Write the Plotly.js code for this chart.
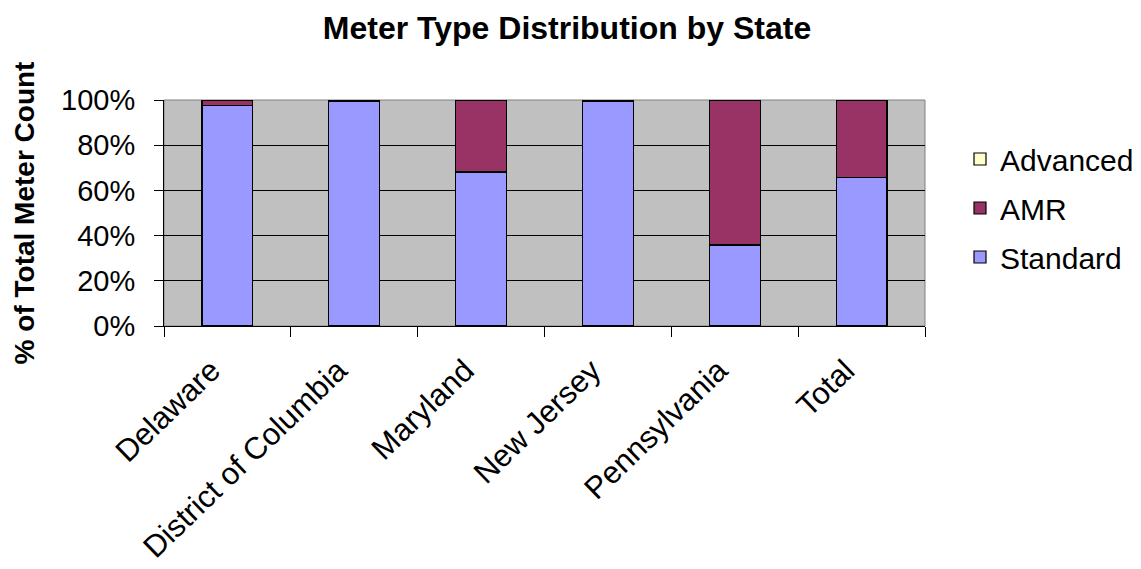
<!DOCTYPE html>
<html>
<head>
<meta charset="utf-8">
<script src="https://cdn.plot.ly/plotly-3.0.1.min.js"></script>
<style>html,body{margin:0;padding:0;background:#fff;}#chart{width:1141px;height:569px;}</style>
</head>
<body>
<div id="chart"></div>
<script>
var states = ["Delaware", "District of Columbia", "Maryland", "New Jersey", "Pennsylvania", "Total"];
var standardPct = [97.6, 99.2, 68.1, 99.2, 35.8, 65.6];
var amrPct = [2.4, 0.6, 31.9, 0.6, 64.2, 34.3];
var advancedPct = [0.0, 0.2, 0.0, 0.2, 0.0, 0.1];
var yTickVals = [0, 20, 40, 60, 80, 100];
var yTickText = ["0%", "20%", "40%", "60%", "80%", "100%"];

var FONT = "Liberation Sans, Arial, sans-serif";
var outline = {color: "#000000", width: 1.2};

var traces = [
  {type: "bar", name: "Standard", x: states, y: standardPct, legendgroup: "s", legendrank: 3,
   marker: {color: "#9999FF", line: outline}},
  {type: "bar", name: "AMR", x: states, y: amrPct, legendgroup: "a", legendrank: 2,
   marker: {color: "#993366", line: outline}},
  {type: "bar", name: "Advanced", x: states, y: advancedPct, legendgroup: "v", legendrank: 1,
   marker: {color: "#FFFFCC", line: outline}}
];

var layout = {
  width: 1141, height: 569,
  margin: {l: 164, r: 216, t: 100, b: 243, pad: 0, autoexpand: false},
  paper_bgcolor: "#ffffff",
  plot_bgcolor: "#C0C0C0",
  barmode: "stack",
  bargap: 0.6,
  font: {family: FONT, color: "#000000", size: 29},
  title: {text: "<b>Meter Type Distribution by State</b>", font: {family: FONT, size: 32, color: "#000"},
          x: 567/1141, xref: "container", xanchor: "center", y: 1 - 28/569, yref: "container", yanchor: "middle"},
  xaxis: {type: "category", tickson: "boundaries", ticks: "outside", ticklen: 10, tickcolor: "#000", tickwidth: 1,
          showline: true, linecolor: "#000", linewidth: 1, showgrid: false,
          ticklabelstandoff: 13, ticklabelshift: -16,
          tickangle: -44, tickfont: {family: FONT, size: 31, color: "#000"}, automargin: false},
  yaxis: {range: [0, 100], tickvals: yTickVals, ticktext: yTickText, ticks: "outside", ticklen: 9,
          tickcolor: "#000", tickwidth: 1, showline: true, linecolor: "#000", linewidth: 1,
          showgrid: true, gridcolor: "#000", gridwidth: 1, zeroline: false, ticklabelstandoff: 13,
          tickfont: {family: FONT, size: 29, color: "#000"}, automargin: false,
          title: {text: "<b>% of Total Meter Count</b>", font: {family: FONT, size: 28, color: "#000"}, standoff: 18}},
  showlegend: true,
  legend: {x: 960/1141, xref: "container", xanchor: "left", y: 1 - 133/569, yref: "container", yanchor: "top",
           traceorder: "grouped", tracegroupgap: 7, bgcolor: "rgba(0,0,0,0)",
           font: {family: FONT, size: 30, color: "#000"}, itemwidth: 30},
  shapes: [
    {type: "rect", xref: "paper", yref: "paper", x0: 0, x1: 1, y0: 0, y1: 1, line: {color: "#808080", width: 1}, layer: "below"}
  ]
};

Plotly.newPlot("chart", traces, layout, {displayModeBar: false, staticPlot: true});
</script>
</body>
</html>
